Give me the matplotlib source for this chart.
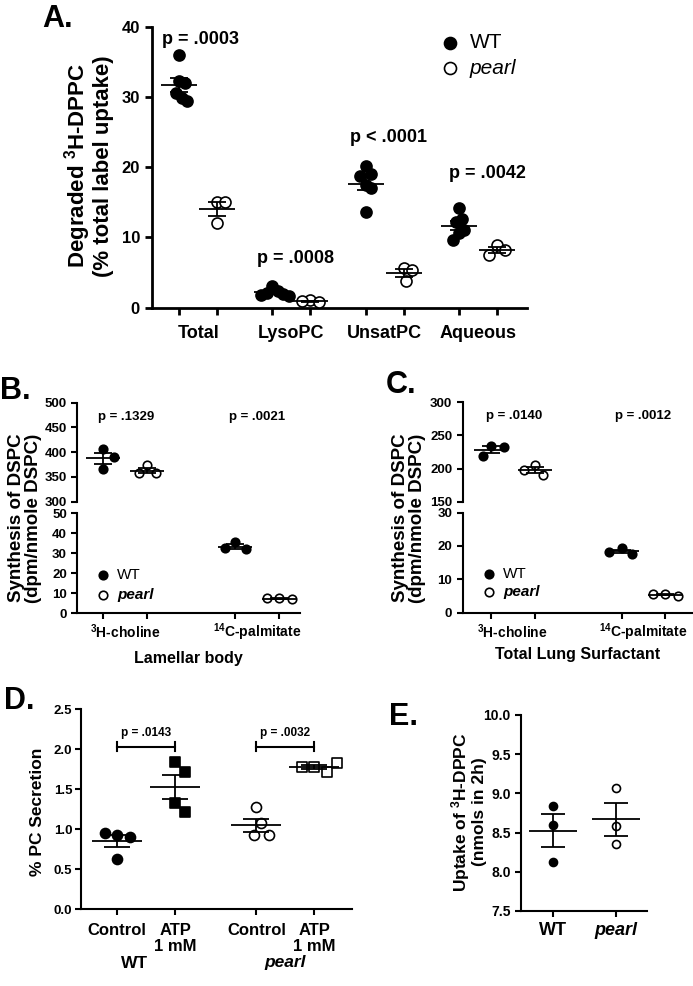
import numpy as np
import matplotlib
matplotlib.use("Agg")
import matplotlib.pyplot as plt
from matplotlib.transforms import blended_transform_factory as btf

plt.rcParams['font.family'] = ['Liberation Sans', 'DejaVu Sans']
plt.rcParams['mathtext.fontset'] = 'custom'
plt.rcParams['mathtext.rm'] = 'Liberation Sans'
plt.rcParams['mathtext.bf'] = 'Liberation Sans:bold'
plt.rcParams['mathtext.it'] = 'Liberation Sans:italic'
plt.rcParams['mathtext.default'] = 'bf'

# ---------------- data ----------------
a_groups = ['Total', 'LysoPC', 'UnsatPC', 'Aqueous']
a_wt = [[36.0, 32.4, 32.0, 30.6, 29.9, 29.5],
        [3.0, 2.4, 2.1, 1.9, 1.8, 1.7],
        [20.2, 19.0, 18.8, 17.5, 17.0, 13.7],
        [14.2, 12.6, 12.2, 11.0, 10.6, 9.6]]
a_pearl = [[15.1, 15.0, 12.0],
           [1.0, 0.8, 0.9],
           [5.6, 5.4, 3.8],
           [8.9, 8.2, 7.5]]
a_pvals = ['p = .0003', 'p = .0008', 'p < .0001', 'p = .0042']
a_yticks = [0, 10, 20, 30, 40]

bc_labels = ['$^{3}$H-choline', '$^{14}$C-palmitate']
b_wt_choline = [406, 391, 366]
b_pearl_choline = [374, 357, 357]
b_wt_palm = [35.5, 32.0, 32.5]
b_pearl_palm = [7.5, 7.0, 7.5]
b_pvals = ['p = .1329', 'p = .0021']

c_wt_choline = [234, 233, 219]
c_pearl_choline = [205, 190, 198]
c_wt_palm = [19.3, 17.6, 18.3]
c_pearl_palm = [5.5, 5.1, 5.5]
c_pvals = ['p = .0140', 'p = .0012']

d_labels = ['Control', 'ATP\n1 mM', 'Control', 'ATP\n1 mM']
d_wt_ctrl = [0.92, 0.90, 0.95, 0.62]
d_wt_atp = [1.84, 1.71, 1.33, 1.21]
d_pearl_ctrl = [1.27, 1.08, 0.92, 0.92]
d_pearl_atp = [1.78, 1.71, 1.78, 1.83]
d_pvals = ['p = .0143', 'p = .0032']

e_wt = [8.84, 8.60, 8.13]
e_pearl = [9.07, 8.58, 8.36]

# ---------------- layout helpers ----------------
W, H = 693, 986
fig = plt.figure(figsize=(W / 100, H / 100), dpi=100)


def fx(px):
    return px / W


def fy(py):
    return 1 - py / H


def add_ax(x0, x1, y0, y1):
    return fig.add_axes([fx(x0), fy(y1), fx(x1) - fx(x0), (y1 - y0) / H])


def style(ax, lw=1.5, left=True, bottom=True):
    for s in ['top', 'right']:
        ax.spines[s].set_visible(False)
    ax.spines['left'].set_visible(left)
    ax.spines['bottom'].set_visible(bottom)
    for s in ['left', 'bottom']:
        ax.spines[s].set_linewidth(lw)
    ax.tick_params(width=lw, length=4, direction='out')
    ax.patch.set_alpha(0)


def swarm(ax, x0, vals, diam, hx=0.7, vy=1.3):
    tr = ax.transData
    x0px = tr.transform((x0, 0))[0]
    placed = []
    out = []
    for v in vals:
        ypx = tr.transform((x0, v))[1]
        best = 0.0
        found = False
        for k in range(0, 80):
            for s in ([0] if k == 0 else [k, -k]):
                off = s * diam * 0.25
                if all(((x0px + off - px) / (hx * diam)) ** 2 +
                       ((ypx - py) / (vy * diam)) ** 2 >= 1.0
                       for px, py in placed):
                    best = off
                    found = True
                    break
            if found:
                break
        placed.append((x0px + best, ypx))
        out.append(tr.inverted().transform((x0px + best, ypx))[0])
    return out


def group(ax, x0, vals, diam_px, filled, marker='o', mean_hw=18, cap_hw=9, lw=1.3,
          hx=0.7, vy=1.3):
    vals = np.asarray(vals, float)
    xs = swarm(ax, x0, vals, diam_px, hx, vy)
    ms = diam_px / 1.389
    ax.scatter(xs, vals, s=ms ** 2, marker=marker,
               facecolor='black' if filled else 'white',
               edgecolor='black', linewidth=1.2, zorder=3, clip_on=False)
    m = vals.mean()
    sem = vals.std(ddof=1) / np.sqrt(len(vals))
    tr = ax.transData
    xp = tr.transform((x0, m))[0]
    inv = tr.inverted()
    xl = inv.transform((xp - mean_hw, 0))[0]
    xr = inv.transform((xp + mean_hw, 0))[0]
    cl = inv.transform((xp - cap_hw, 0))[0]
    cr = inv.transform((xp + cap_hw, 0))[0]
    kw = dict(color='black', lw=lw, zorder=4, solid_capstyle='butt', clip_on=False)
    ax.plot([xl, xr], [m, m], **kw)
    ax.plot([x0, x0], [m - sem, m + sem], **kw)
    ax.plot([cl, cr], [m + sem, m + sem], **kw)
    ax.plot([cl, cr], [m - sem, m - sem], **kw)


def legend_items(x, y1, y2, xt, diam, size, pearl_bold):
    for yy, filled in [(y1, True), (y2, False)]:
        fig.add_artist(plt.Line2D([fx(x)], [fy(yy)], marker='o', ms=diam / 1.389,
                                  mfc='black' if filled else 'white', mec='black',
                                  mew=1.2, transform=fig.transFigure, ls='none'))
    fig.text(fx(xt), fy(y1), 'WT', fontsize=size, va='center', ha='left')
    fig.text(fx(xt), fy(y2), 'pearl', fontsize=size, va='center', ha='left',
             style='italic', weight='bold' if pearl_bold else 'normal')


# ---------------- panel A ----------------
axA = add_ax(151.7, 527, 27.3, 307.5)
style(axA, lw=2.0)
axA.tick_params(length=5, width=2)
gap = 2.45
a_pos = [i * gap for i in range(4)]
axA.set_xlim(-0.72, 3 * gap + 1 + 0.79)
axA.set_ylim(0, 40)
axA.set_yticks(a_yticks)
axA.set_yticklabels([str(t) for t in a_yticks], fontsize=12, fontweight='bold')
ticksA = [p + d for p in a_pos for d in (0, 1)]
axA.set_xticks(ticksA)
axA.set_xticklabels([''] * len(ticksA))
tA = btf(axA.transData, fig.transFigure)
for i, p in enumerate(a_pos):
    group(axA, p, a_wt[i], 11, True, mean_hw=18, cap_hw=9, hx=0.45, vy=1.2)
    group(axA, p + 1, a_pearl[i], 11, False, mean_hw=18, cap_hw=9, hx=0.75, vy=1.2)
    axA.text(p + 0.5, fy(334), a_groups[i], transform=tA, ha='center', va='center',
             fontsize=13, fontweight='bold')
a_py = [40, 258, 137, 173]
a_pdx = [0.05, 0.1, 0.1, 0.25]
for i, p in enumerate(a_pos):
    axA.text(p + 0.5 + a_pdx[i], fy(a_py[i]), a_pvals[i], transform=tA, ha='center',
             va='center', fontsize=13, fontweight='bold')
fig.text(fx(88), fy(166), 'Degraded $^{3}$H-DPPC\n(% total label uptake)', rotation=90,
         ha='center', va='center', fontsize=16, fontweight='bold', multialignment='center',
         linespacing=1.05)
legend_items(450, 43, 68, 470, 12, 15, False)
fig.text(fx(42), fy(4), 'A.', fontsize=22, fontweight='bold', va='top', ha='left')


# ---------------- panels B & C ----------------
def broken_panel(x0, x1, yu0, yu1, yl0, yl1, xlim, ulim, uticks, llim, lticks,
                 wt_ch, pe_ch, wt_pa, pe_pa, pvals, p_y, xlabel, tick_y, xlab_y,
                 ylab_x, letter, letter_xy, leg):
    axU = add_ax(x0, x1, yu0, yu1)
    axL = add_ax(x0, x1, yl0, yl1)
    style(axU, bottom=False)
    style(axL)
    for ax in (axU, axL):
        ax.set_xlim(*xlim)
    axU.set_ylim(*ulim)
    axL.set_ylim(*llim)
    axU.set_yticks(uticks)
    axU.set_yticklabels([str(t) for t in uticks], fontsize=9.5, fontweight='bold')
    axL.set_yticks(lticks)
    axL.set_yticklabels([str(t) for t in lticks], fontsize=9.5, fontweight='bold')
    axU.set_xticks([])
    axL.set_xticks([0, 1, 3, 4])
    axL.set_xticklabels([''] * 4)
    kw = dict(mean_hw=17, cap_hw=9, hx=1.3, vy=1.5)
    group(axU, 0, wt_ch, 8.5, True, **kw)
    group(axU, 1, pe_ch, 8.5, False, **kw)
    group(axL, 3, wt_pa, 8.5, True, **kw)
    group(axL, 4, pe_pa, 8.5, False, **kw)
    t = btf(axL.transData, fig.transFigure)
    for cx, lab in zip([0.5, 3.5], bc_labels):
        axL.text(cx, fy(tick_y), lab, transform=t, ha='center', va='center',
                 fontsize=10, fontweight='bold')
    for cx, pv in zip([0.52, 3.5], pvals):
        axU.text(cx, fy(p_y), pv, transform=t, ha='center', va='center',
                 fontsize=9.5, fontweight='bold')
    fig.text(fx((x0 + x1) / 2), fy(xlab_y), xlabel, ha='center', va='center',
             fontsize=11.5, fontweight='bold')
    fig.text(fx(ylab_x), fy(518), 'Synthesis of DSPC\n(dpm/nmole DSPC)', rotation=90,
             ha='center', va='center', fontsize=13.5, fontweight='bold',
             multialignment='center', linespacing=1.05)
    fig.text(fx(letter_xy[0]), fy(letter_xy[1]), letter, fontsize=22, fontweight='bold',
             va='top', ha='left')
    legend_items(*leg)


broken_panel(77.3, 300, 402.7, 501.7, 513.3, 613.3, (-0.59, 4.47),
             (300, 500), [300, 350, 400, 450, 500], (0, 50), [0, 10, 20, 30, 40, 50],
             b_wt_choline, b_pearl_choline, b_wt_palm, b_pearl_palm, b_pvals, 417,
             'Lamellar body', 632, 658, 25, 'B.', (0, 376),
             (102.7, 575, 595, 117, 8.5, 11, True))
broken_panel(462.7, 691.5, 402.3, 501.7, 512.7, 612.5, (-0.65, 4.6),
             (150, 300), [150, 200, 250, 300], (0, 30), [0, 10, 20, 30],
             c_wt_choline, c_pearl_choline, c_wt_palm, c_pearl_palm, c_pvals, 416,
             'Total Lung Surfactant', 632, 655, 409, 'C.', (386, 370),
             (489.3, 574, 592.3, 503, 8.5, 11, True))

# ---------------- panel D ----------------
axD = add_ax(80.7, 352, 709, 909)
style(axD)
d_pos = [0, 1, 2.4, 3.4]
axD.set_xlim(-0.63, 4.05)
axD.set_ylim(0, 2.5)
axD.set_yticks([0, 0.5, 1.0, 1.5, 2.0, 2.5])
axD.set_yticklabels(['0.0', '0.5', '1.0', '1.5', '2.0', '2.5'], fontsize=9.5,
                    fontweight='bold')
axD.tick_params(axis='y', pad=2)
axD.set_xticks(d_pos)
axD.set_xticklabels(d_labels, fontsize=12, fontweight='bold', va='top', linespacing=1.1)
axD.tick_params(axis='x', pad=6)
kwD = dict(mean_hw=25, cap_hw=13, hx=1.2, vy=1.6)
group(axD, d_pos[0], d_wt_ctrl, 10, True, 'o', **kwD)
group(axD, d_pos[1], d_wt_atp, 10, True, 's', **kwD)
group(axD, d_pos[2], d_pearl_ctrl, 10, False, 'o', **kwD)
group(axD, d_pos[3], d_pearl_atp, 10, False, 's', **kwD)
tD = btf(axD.transData, fig.transFigure)
for (a, b), pv in zip([(d_pos[0], d_pos[1]), (d_pos[2], d_pos[3])], d_pvals):
    axD.plot([a, b], [2.03, 2.03], color='black', lw=1.5)
    axD.plot([a, a], [1.97, 2.09], color='black', lw=1.5)
    axD.plot([b, b], [1.97, 2.09], color='black', lw=1.5)
    axD.text((a + b) / 2, 2.2, pv, ha='center', va='center', fontsize=8.5, fontweight='bold')
axD.text(0.3, fy(963), 'WT', transform=tD, ha='center', va='center', fontsize=12.5,
         fontweight='bold')
axD.text(2.9, fy(963), 'pearl', transform=tD, ha='center', va='center', fontsize=12.5,
         fontweight='bold', style='italic')
fig.text(fx(38), fy(812), '% PC Secretion', rotation=90, ha='center', va='center',
         fontsize=12.5, fontweight='bold')
fig.text(fx(4), fy(686), 'D.', fontsize=22, fontweight='bold', va='top', ha='left')

# ---------------- panel E ----------------
axE = add_ax(521, 647, 715, 911)
style(axE)
axE.set_xlim(-0.51, 1.49)
axE.set_ylim(7.5, 10.0)
axE.set_yticks([7.5, 8.0, 8.5, 9.0, 9.5, 10.0])
axE.set_yticklabels(['7.5', '8.0', '8.5', '9.0', '9.5', '10.0'], fontsize=10,
                    fontweight='bold')
axE.set_xticks([0, 1])
axE.set_xticklabels(['WT', 'pearl'], fontsize=13, fontweight='bold')
axE.get_xticklabels()[1].set_style('italic')
axE.tick_params(axis='x', pad=4)
group(axE, 0, e_wt, 8, True, mean_hw=24, cap_hw=12)
group(axE, 1, e_pearl, 8, False, mean_hw=24, cap_hw=12)
fig.text(fx(468), fy(812), 'Uptake of $^{3}$H-DPPC\n(nmols in 2h)', rotation=90,
         ha='center', va='center', fontsize=12.5, fontweight='bold',
         multialignment='center', linespacing=1.05)
fig.text(fx(389), fy(702), 'E.', fontsize=22, fontweight='bold', va='top', ha='left')

fig.savefig('out.png', dpi=100)
